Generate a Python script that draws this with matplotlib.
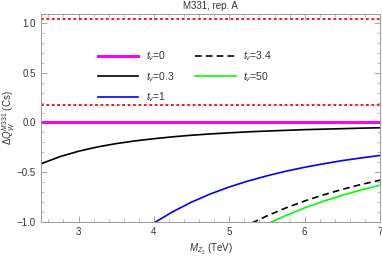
import matplotlib

matplotlib.use("Agg")

import matplotlib.pyplot as plt  # noqa: E402
from matplotlib.ticker import MultipleLocator  # noqa: E402

plt.rcParams["font.family"] = ["Liberation Sans", "DejaVu Sans"]
plt.rcParams["mathtext.fontset"] = "custom"
plt.rcParams["mathtext.rm"] = "Liberation Sans"
plt.rcParams["mathtext.it"] = "Liberation Sans:italic"
plt.rcParams["mathtext.bf"] = "Liberation Sans:bold"

# values
x_03 = [2.5, 2.75, 3.0, 3.25, 3.5, 3.75, 4.0, 4.25, 4.5, 4.75, 5.0, 5.25, 5.5, 5.75, 6.0, 6.25, 6.5, 6.75, 7.0]
y_03 = [-0.416, -0.344, -0.289, -0.246, -0.212, -0.185, -0.163, -0.144, -0.128, -0.115,
        -0.104, -0.094, -0.086, -0.079, -0.072, -0.067, -0.062, -0.057, -0.053]

x_1 = [3.9, 4.0, 4.25, 4.5, 4.75, 5.0, 5.25, 5.5, 5.75, 6.0, 6.25, 6.5, 6.75, 7.0]
y_1 = [-1.065, -1.01, -0.897, -0.80, -0.718, -0.648, -0.588, -0.536, -0.49, -0.45,
       -0.415, -0.383, -0.356, -0.331]

x_34 = [5.3, 5.5, 5.75, 6.0, 6.25, 6.5, 6.75, 7.0]
y_34 = [-1.01, -0.939, -0.859, -0.789, -0.727, -0.672, -0.623, -0.58]

x_50 = [5.55, 5.75, 6.0, 6.25, 6.5, 6.75, 7.0]
y_50 = [-1.003, -0.935, -0.858, -0.791, -0.731, -0.678, -0.631]

x_0 = [2.5, 7.0]
y_0 = [0.0, 0.0]

bounds = [1.04, 0.18]

frame = "#999999"
txt = "#333333"

fig = plt.figure(figsize=(3.82, 2.56), dpi=100)
ax = fig.add_axes([0.107, 0.133, 0.888, 0.812])

ax.plot(x_0, y_0, color="#ff00ff", lw=2.2, label=r"$t_{\nu}$=0")
ax.plot(x_03, y_03, color="black", lw=1.2, label=r"$t_{\nu}$=0.3")
ax.plot(x_1, y_1, color="#0000ff", lw=1.2, label=r"$t_{\nu}$=1")
ax.plot(x_34, y_34, color="black", lw=1.2, ls=(0, (4, 2.5)), label=r"$t_{\nu}$=3.4")
ax.plot(x_50, y_50, color="#00ff00", lw=1.2, label=r"$t_{\nu}$=50")
for b in bounds:
    ax.axhline(b, color="#ff0000", lw=1.3, ls=(0, (1.5, 1.5)))

ax.set_xlim(2.5, 7)
ax.set_ylim(-1, 1.09)
ax.xaxis.set_major_locator(MultipleLocator(1))
ax.xaxis.set_minor_locator(MultipleLocator(0.2))
ax.yaxis.set_major_locator(MultipleLocator(0.5))
ax.yaxis.set_minor_locator(MultipleLocator(0.1))
ax.tick_params(which="both", direction="in", top=True, right=True, colors=frame,
               labelcolor=txt, labelsize=7)
ax.tick_params(which="major", length=4, width=0.6)
ax.tick_params(which="minor", length=2, width=0.5)
ax.yaxis.set_major_formatter(lambda v, _pos: f"{v:.1f}".replace("-", "\u2212"))
for s in ax.spines.values():
    s.set_color(frame)
    s.set_linewidth(0.7)

ax.set_title("M331, rep. A", fontsize=7, color=txt, pad=4)
ax.set_xlabel(r"$M_{Z_2}$ (TeV)", fontsize=7, color=txt, labelpad=4)
ax.set_ylabel(r"$\Delta Q_W^{M331}$ (Cs)", fontsize=7, color=txt, labelpad=0)

ax.legend(loc="upper left", bbox_to_anchor=(0.14, 0.875), ncol=2, frameon=False,
          fontsize=7.5, handlelength=3.9, handletextpad=0.7, columnspacing=2.0,
          labelspacing=0.65, labelcolor=txt)

fig.savefig("out.png", dpi=100)
